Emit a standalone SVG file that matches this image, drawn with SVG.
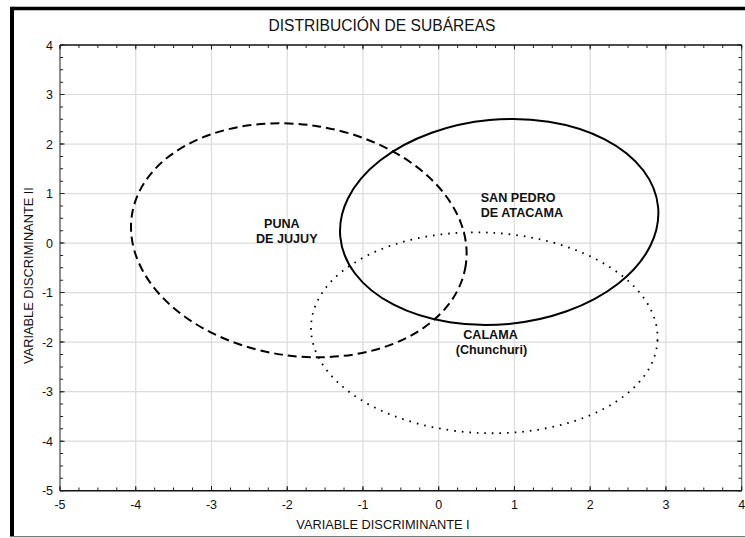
<svg xmlns="http://www.w3.org/2000/svg" width="745" height="538" viewBox="0 0 745 538">
<style>
text{font-family:"Liberation Sans",Arial,sans-serif;fill:#111}
.tk{font-size:12.5px}
.ax{font-size:12.8px}
.lb{font-size:12.6px;font-weight:bold}
.grid line{stroke:#dcdcdc;stroke-width:1.2}
.el{fill:none;stroke:#000}
</style>
<rect x="0" y="0" width="745" height="538" fill="#fff"/>
<!-- frame -->
<g id="frame">
<line x1="12" y1="8.5" x2="745" y2="8.5" stroke="#000" stroke-width="3.5"/>
<line x1="12" y1="6.8" x2="12" y2="537" stroke="#000" stroke-width="4"/>
<line x1="10" y1="536.6" x2="745" y2="536.6" stroke="#777" stroke-width="1.4"/>
</g>
<text x="382" y="30.7" text-anchor="middle" style="font-size:15.6px">DISTRIBUCIÓN DE SUBÁREAS</text>
<!-- grid -->
<g class="grid">
<line x1="135.74" y1="45" x2="135.74" y2="490.68"/>
<line x1="211.48" y1="45" x2="211.48" y2="490.68"/>
<line x1="287.22" y1="45" x2="287.22" y2="490.68"/>
<line x1="362.96" y1="45" x2="362.96" y2="490.68"/>
<line x1="438.7" y1="45" x2="438.7" y2="490.68"/>
<line x1="514.44" y1="45" x2="514.44" y2="490.68"/>
<line x1="590.18" y1="45" x2="590.18" y2="490.68"/>
<line x1="665.92" y1="45" x2="665.92" y2="490.68"/>
<line x1="60" y1="94.52" x2="741.66" y2="94.52"/>
<line x1="60" y1="144.04" x2="741.66" y2="144.04"/>
<line x1="60" y1="193.56" x2="741.66" y2="193.56"/>
<line x1="60" y1="243.08" x2="741.66" y2="243.08"/>
<line x1="60" y1="292.6" x2="741.66" y2="292.6"/>
<line x1="60" y1="342.12" x2="741.66" y2="342.12"/>
<line x1="60" y1="391.64" x2="741.66" y2="391.64"/>
<line x1="60" y1="441.16" x2="741.66" y2="441.16"/>
</g>
<!-- axes box -->
<g id="axes" fill="none">
<line x1="60" y1="45" x2="741.66" y2="45" stroke="#111" stroke-width="1.3"/>
<line x1="60" y1="490.68" x2="741.66" y2="490.68" stroke="#111" stroke-width="1.5"/>
<line x1="60" y1="45" x2="60" y2="490.68" stroke="#444" stroke-width="1.2"/>
<line x1="741.66" y1="45" x2="741.66" y2="490.68" stroke="#666" stroke-width="1.2"/>
<!-- minor ticks -->
<line x1="59.5" y1="488.9" x2="742.2" y2="488.9" stroke="#222" stroke-width="3" stroke-dasharray="1 17.935"/>
<line x1="59.5" y1="46.6" x2="742.2" y2="46.6" stroke="#222" stroke-width="3" stroke-dasharray="1 17.935"/>
<line x1="61.6" y1="44.5" x2="61.6" y2="491.2" stroke="#222" stroke-width="3" stroke-dasharray="1 11.38"/>
<line x1="740" y1="44.5" x2="740" y2="491.2" stroke="#222" stroke-width="3" stroke-dasharray="1 11.38"/>
<!-- major ticks -->
<line x1="59.5" y1="488.2" x2="742.2" y2="488.2" stroke="#222" stroke-width="4.6" stroke-dasharray="1 74.74"/>
<line x1="59.5" y1="47.3" x2="742.2" y2="47.3" stroke="#222" stroke-width="4.6" stroke-dasharray="1 74.74"/>
<line x1="62.3" y1="44.5" x2="62.3" y2="491.2" stroke="#222" stroke-width="4.6" stroke-dasharray="1 48.52"/>
<line x1="739.3" y1="44.5" x2="739.3" y2="491.2" stroke="#222" stroke-width="4.6" stroke-dasharray="1 48.52"/>
</g>
<!-- tick labels -->
<g class="tk" text-anchor="middle">
<text x="60" y="509">-5</text>
<text x="135.74" y="509">-4</text>
<text x="211.48" y="509">-3</text>
<text x="287.22" y="509">-2</text>
<text x="362.96" y="509">-1</text>
<text x="438.7" y="509">0</text>
<text x="514.44" y="509">1</text>
<text x="590.18" y="509">2</text>
<text x="665.92" y="509">3</text>
<text x="741.66" y="509">4</text>
</g>
<g class="tk" text-anchor="end">
<text x="53" y="49.5">4</text>
<text x="53" y="99">3</text>
<text x="53" y="148.5">2</text>
<text x="53" y="198">1</text>
<text x="53" y="247.5">0</text>
<text x="53" y="297">-1</text>
<text x="53" y="346.6">-2</text>
<text x="53" y="396.1">-3</text>
<text x="53" y="445.6">-4</text>
<text x="53" y="495.1">-5</text>
</g>
<text class="ax" x="383" y="529.3" text-anchor="middle">VARIABLE DISCRIMINANTE I</text>
<text class="ax" transform="translate(33.2,275.5) rotate(-90)" text-anchor="middle">VARIABLE DISCRIMINANTE II</text>
<!-- groups -->
<g id="puna-de-jujuy">
<ellipse class="el" cx="298.8" cy="240.3" rx="168.8" ry="115.6" transform="rotate(8.5 298.8 240.3)" stroke-width="2" stroke-dasharray="9 5"/>
<text class="lb" x="264" y="228.3">PUNA</text>
<text class="lb" x="256" y="242.7">DE JUJUY</text>
</g>
<g id="san-pedro-de-atacama">
<ellipse class="el" cx="499.2" cy="222" rx="159.6" ry="102.4" transform="rotate(-5.4 499.2 222)" stroke-width="2"/>
<text class="lb" x="480.7" y="202.3">SAN PEDRO</text>
<text class="lb" x="480.7" y="216.7">DE ATACAMA</text>
</g>
<g id="calama">
<ellipse class="el" cx="484.3" cy="332.8" rx="173.4" ry="100.3" transform="rotate(2.4 484.3 332.8)" stroke-width="1.8" stroke-dasharray="1.6 6" stroke-linecap="butt"/>
<text class="lb" x="490.5" y="339" text-anchor="middle">CALAMA</text>
<text class="lb" x="491.5" y="354.3" text-anchor="middle">(Chunchuri)</text>
</g>
<g id="connectors"/>
</svg>
